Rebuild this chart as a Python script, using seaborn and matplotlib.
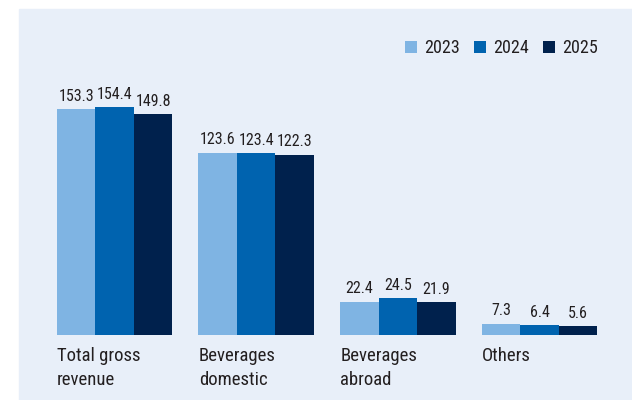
import matplotlib
matplotlib.use("Agg")
import matplotlib.pyplot as plt
from matplotlib import font_manager
from matplotlib.patches import Rectangle
from matplotlib.transforms import ScaledTranslation
import seaborn as sns
import pandas as pd

categories = ["Total gross\nrevenue", "Beverages\ndomestic", "Beverages\nabroad", "Others"]
years = ["2023", "2024", "2025"]
values_2023 = [153.3, 123.6, 22.4, 7.3]
values_2024 = [154.4, 123.4, 24.5, 6.4]
values_2025 = [149.8, 122.3, 21.9, 5.6]
colors = ["#7fb4e3", "#0063af", "#00214d"]

bg = "#e8eff9"
text_color = "#231f20"

sns.set_style("white")
available = {f.name for f in font_manager.fontManager.ttflist}
prefs = ["Roboto Condensed", "Liberation Sans Narrow", "Open Sans Condensed", "Roboto", "DejaVu Sans"]
font = next(f for f in prefs if f in available)
plt.rcParams["font.family"] = [font, "DejaVu Sans"]

rows = []
for yr, vals in zip(years, [values_2023, values_2024, values_2025]):
    for c, v in zip(categories, vals):
        rows.append({"category": c, "year": yr, "value": v})
df = pd.DataFrame(rows)

fig = plt.figure(figsize=(6.32, 4.0), dpi=100, facecolor="white")
fig.patches.append(Rectangle((19 / 632, 0), 1 - 19 / 632, 1 - 9 / 400,
                             transform=fig.transFigure, color=bg, zorder=-10))
ax = fig.add_axes([0.0692, 0.16375, 0.8965, 0.73625])
ax.patch.set_visible(False)
ax.set_zorder(1)

sns.barplot(data=df, x="category", y="value", hue="year", order=categories,
            hue_order=years, palette=colors, width=0.815, saturation=1,
            linewidth=0, errorbar=None, ax=ax)

for cont in ax.containers:
    ax.bar_label(cont, fmt="%.1f", padding=4, fontsize=11.5, color=text_color)

ax.set_xlim(-0.5, 3.5)
ax.set_ylim(0, 200.3)
for s in ax.spines.values():
    s.set_visible(False)
ax.set_yticks([])
ax.set_xlabel("")
ax.set_ylabel("")
ax.tick_params(axis="x", length=0, pad=9, labelsize=13.5, labelcolor=text_color)
offset = ScaledTranslation(-57.5 / 100, 0, fig.dpi_scale_trans)
for lab in ax.get_xticklabels():
    lab.set_ha("left")
    lab.set_linespacing(1.45)
    lab.set_transform(lab.get_transform() + offset)

leg = ax.legend(loc="center left", bbox_to_anchor=(405 / 632, 1 - 48 / 400),
                bbox_transform=fig.transFigure, ncol=3, frameon=False,
                prop={"size": 13}, handlelength=0.65,
                handleheight=0.65, handletextpad=0.4, columnspacing=0.8,
                borderpad=0, borderaxespad=0)
for t in leg.get_texts():
    t.set_color(text_color)

fig.savefig("out.png", dpi=100, facecolor="white")
